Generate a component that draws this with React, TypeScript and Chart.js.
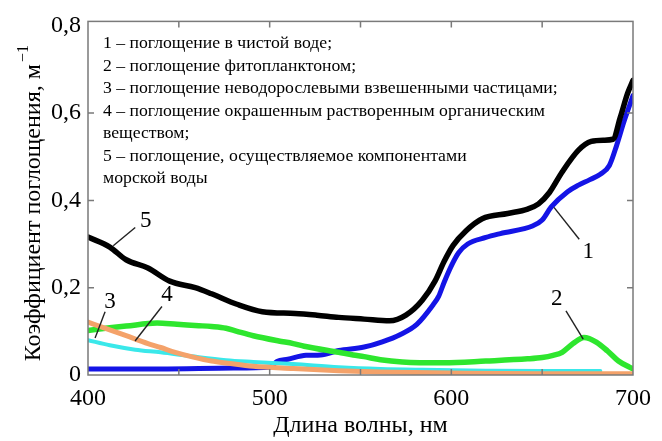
import React, { useEffect, useRef } from 'react';
import { Chart, registerables } from 'chart.js';

Chart.register(...registerables);

// ---- data ----
const waterNm = [400, 440, 480, 500, 504, 510, 520, 528, 538, 552, 562, 572, 581, 590, 593, 596, 600, 604, 609, 619, 627, 645, 650, 655, 664, 670, 676, 682, 687, 691, 695, 700];
const waterAbs = [0.014, 0.014, 0.016, 0.018, 0.031, 0.036, 0.045, 0.046, 0.056, 0.064, 0.076, 0.093, 0.116, 0.161, 0.18, 0.212, 0.25, 0.28, 0.3, 0.315, 0.324, 0.342, 0.355, 0.385, 0.42, 0.435, 0.447, 0.46, 0.48, 0.526, 0.58, 0.64];

const phytoNm = [400, 412, 421, 438, 449, 461, 468, 476, 482, 491, 505, 513, 519, 538, 546, 552, 561, 573, 596, 619, 642, 650, 656, 661, 667, 673, 680, 686, 692, 698, 700];
const phytoAbs = [0.102, 0.108, 0.112, 0.119, 0.116, 0.113, 0.111, 0.107, 0.1, 0.09, 0.078, 0.072, 0.066, 0.052, 0.046, 0.042, 0.035, 0.03, 0.028, 0.032, 0.037, 0.04, 0.045, 0.052, 0.072, 0.086, 0.075, 0.055, 0.032, 0.018, 0.014];

const particlesNm = [400, 412, 426, 440, 457, 476, 491, 513, 538, 561, 584, 619, 650, 682];
const particlesAbs = [0.08, 0.068, 0.058, 0.052, 0.043, 0.034, 0.03, 0.025, 0.018, 0.014, 0.012, 0.01, 0.009, 0.009];

const cdomNm = [400, 410, 421, 433, 440, 448, 458, 468, 477, 491, 513, 538, 561, 608, 650, 700];
const cdomAbs = [0.121, 0.106, 0.09, 0.072, 0.063, 0.052, 0.041, 0.032, 0.027, 0.02, 0.015, 0.01, 0.007, 0.004, 0.003, 0.003];

const totalNm = [400, 412, 421, 433, 445, 459, 468, 482, 496, 514, 526, 538, 552, 566, 575, 584, 591, 596, 601, 608, 617, 631, 642, 648, 654, 661, 670, 677, 684, 689, 693, 697, 700];
const totalAbs = [0.316, 0.293, 0.264, 0.245, 0.215, 0.2, 0.186, 0.162, 0.145, 0.141, 0.137, 0.132, 0.128, 0.124, 0.137, 0.171, 0.215, 0.26, 0.297, 0.33, 0.358, 0.37, 0.38, 0.392, 0.418, 0.465, 0.515, 0.535, 0.538, 0.54, 0.59, 0.645, 0.675];

const xTickValues = [400, 450, 500, 550, 600, 650, 700];
const xTickLabels = ['400', '', '500', '', '600', '', '700'];
const yTickValues = [0, 0.2, 0.4, 0.6, 0.8];
const yTickLabels = ['0', '0,2', '0,4', '0,6', '0,8'];
const innerXTicks = [450, 500, 550, 600, 650];
const innerYTicks = [0.2, 0.4, 0.6];

const xTitle = 'Длина волны, нм';
const yTitle = 'Коэффициент поглощения, м';
const yTitleSup = '−1';

const legendLines = [
  '1 – поглощение в чистой воде;',
  '2 – поглощение фитопланктоном;',
  '3 – поглощение неводорослевыми взвешенными частицами;',
  '4 – поглощение окрашенным растворенным органическим',
  'веществом;',
  '5 – поглощение, осуществляемое компонентами',
  'морской воды',
];

// curve number labels with leader lines (data coordinates)
const curveLabels = [
  { text: '5', x: 431.8, y: 0.354, x1: 426, y1: 0.338, x2: 413.9, y2: 0.296 },
  { text: '3', x: 412.1, y: 0.168, x1: 409.4, y1: 0.145, x2: 403.9, y2: 0.085 },
  { text: '4', x: 443.5, y: 0.183, x1: 440.7, y1: 0.157, x2: 425.9, y2: 0.078 },
  { text: '1', x: 675.3, y: 0.283, x1: 670.4, y1: 0.311, x2: 656.5, y2: 0.384 },
  { text: '2', x: 658, y: 0.175, x1: 663.1, y1: 0.147, x2: 672.6, y2: 0.082 },
];

const FONT = '"Liberation Serif", "Times New Roman", serif';

const toPoints = (xs: number[], ys: number[]) => xs.map((x, i) => ({ x, y: ys[i] }));

const overlayPlugin = {
  id: 'overlay',
  afterDatasetsDraw(chart: any) {
    const { ctx, chartArea: a, scales } = chart;
    const xs = scales.x;
    const ys = scales.y;
    ctx.save();
    // frame
    ctx.strokeStyle = '#7a7a7a';
    ctx.lineWidth = 1.5;
    ctx.strokeRect(a.left, a.top, a.right - a.left, a.bottom - a.top);
    ctx.beginPath();
    for (const v of innerXTicks) {
      const px = xs.getPixelForValue(v);
      ctx.moveTo(px, a.top);
      ctx.lineTo(px, a.top + 6);
      ctx.moveTo(px, a.bottom);
      ctx.lineTo(px, a.bottom - 6);
    }
    for (const v of innerYTicks) {
      const py = ys.getPixelForValue(v);
      ctx.moveTo(a.left, py);
      ctx.lineTo(a.left + 6, py);
      ctx.moveTo(a.right, py);
      ctx.lineTo(a.right - 6, py);
    }
    ctx.stroke();

    // leaders + labels
    ctx.strokeStyle = '#222';
    ctx.lineWidth = 1.4;
    ctx.fillStyle = '#000';
    ctx.font = `23px ${FONT}`;
    ctx.textAlign = 'center';
    ctx.textBaseline = 'middle';
    for (const c of curveLabels) {
      ctx.beginPath();
      ctx.moveTo(xs.getPixelForValue(c.x1), ys.getPixelForValue(c.y1));
      ctx.lineTo(xs.getPixelForValue(c.x2), ys.getPixelForValue(c.y2));
      ctx.stroke();
      ctx.fillText(c.text, xs.getPixelForValue(c.x), ys.getPixelForValue(c.y));
    }

    // legend text block
    ctx.font = `17.7px ${FONT}`;
    ctx.textAlign = 'left';
    ctx.textBaseline = 'alphabetic';
    legendLines.forEach((t, i) => {
      ctx.fillText(t, a.left + 15, a.top + 27 + i * 22.5);
    });

    // y axis title (rotated, with superscript)
    ctx.font = `24px ${FONT}`;
    const mainW = ctx.measureText(yTitle).width;
    ctx.font = `16px ${FONT}`;
    const supW = ctx.measureText(yTitleSup).width;
    const total = mainW + 2 + supW;
    ctx.translate(40, (a.top + a.bottom) / 2 + 5);
    ctx.rotate(-Math.PI / 2);
    ctx.font = `24px ${FONT}`;
    ctx.fillText(yTitle, -total / 2, 0);
    ctx.font = `16px ${FONT}`;
    ctx.fillText(yTitleSup, -total / 2 + mainW + 2, -12);
    ctx.restore();
  },
};

export default function App() {
  const canvasRef = useRef<HTMLCanvasElement | null>(null);

  useEffect(() => {
    document.body.style.margin = '0';
    const canvas = canvasRef.current;
    if (!canvas) return;
    const common = {
      fill: false,
      pointRadius: 0,
      cubicInterpolationMode: 'monotone' as const,
      borderCapStyle: 'round' as const,
      borderJoinStyle: 'round' as const,
    };
    const chart = new Chart(canvas, {
      type: 'line',
      data: {
        datasets: [
          { ...common, label: '5', data: toPoints(totalNm, totalAbs), borderColor: '#000000', borderWidth: 5.5 },
          { ...common, label: '4', data: toPoints(cdomNm, cdomAbs), borderColor: '#f4a26a', borderWidth: 5 },
          { ...common, label: '3', data: toPoints(particlesNm, particlesAbs), borderColor: '#3ae8ea', borderWidth: 4 },
          { ...common, label: '2', data: toPoints(phytoNm, phytoAbs), borderColor: '#2ee62e', borderWidth: 5.5 },
          { ...common, label: '1', data: toPoints(waterNm, waterAbs), borderColor: '#1414e6', borderWidth: 5 },
        ],
      },
      options: {
        animation: false,
        responsive: false,
        devicePixelRatio: 1,
        layout: { padding: { left: 0, right: 29, top: 13, bottom: 0 } },
        plugins: { legend: { display: false }, tooltip: { enabled: false } },
        scales: {
          x: {
            type: 'linear',
            min: 400,
            max: 700,
            grid: { display: false, drawTicks: false },
            border: { display: false },
            afterBuildTicks: (s: any) => {
              s.ticks = xTickValues.map((v) => ({ value: v }));
            },
            afterFit: (s: any) => {
              s.height = 66;
            },
            ticks: {
              autoSkip: false,
              maxRotation: 0,
              padding: 9,
              color: '#000',
              font: { family: FONT, size: 24 },
              callback: (v: any) => {
                const i = xTickValues.indexOf(Number(v));
                return i >= 0 ? xTickLabels[i] : '';
              },
            },
            title: {
              display: true,
              text: xTitle,
              color: '#000',
              font: { family: FONT, size: 24 },
              padding: { top: 0, bottom: 1 },
            },
          },
          y: {
            type: 'linear',
            min: 0,
            max: 0.81,
            grid: { display: false, drawTicks: false },
            border: { display: false },
            afterBuildTicks: (s: any) => {
              s.ticks = yTickValues.map((v) => ({ value: v }));
            },
            afterFit: (s: any) => {
              s.width = 88;
            },
            ticks: {
              autoSkip: false,
              padding: 7,
              color: '#000',
              font: { family: FONT, size: 24 },
              callback: (v: any) => {
                const i = yTickValues.findIndex((t) => Math.abs(t - Number(v)) < 1e-9);
                return i >= 0 ? yTickLabels[i] : '';
              },
            },
          },
        },
      },
      plugins: [overlayPlugin],
    });
    return () => chart.destroy();
  }, []);

  return (
    <div style={{ width: 662, height: 441, background: '#fff' }}>
      <canvas ref={canvasRef} width={662} height={441} style={{ display: 'block' }} />
    </div>
  );
}
